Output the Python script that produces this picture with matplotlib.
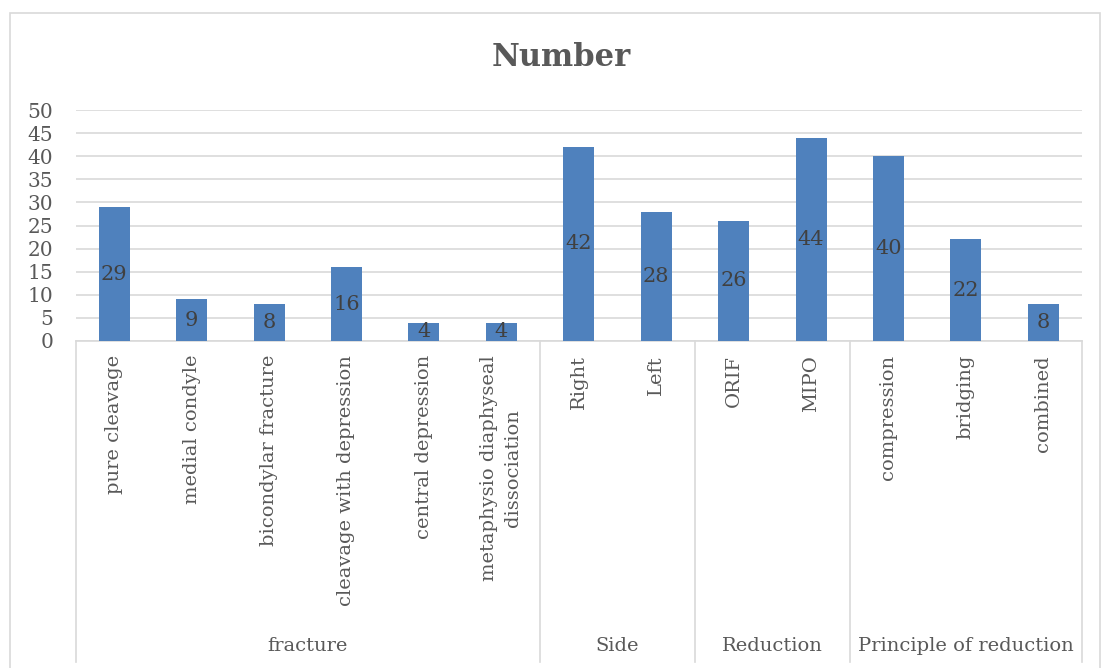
import matplotlib
matplotlib.use("Agg")
import matplotlib.pyplot as plt
from matplotlib.patches import Rectangle
from matplotlib.lines import Line2D
import matplotlib.transforms as mtransforms

categories = ["pure cleavage", "medial condyle", "bicondylar fracture",
              "cleavage with depression", "central depression",
              "metaphysio diaphyseal\ndissociation",
              "Right", "Left", "ORIF", "MIPO",
              "compression", "bridging", "combined"]
values = [29, 9, 8, 16, 4, 4, 42, 28, 26, 44, 40, 22, 8]
groups = ["fracture", "Side", "Reduction", "Principle of reduction"]
group_sizes = [6, 2, 2, 3]
yticks = [0, 5, 10, 15, 20, 25, 30, 35, 40, 45, 50]

W, H = 1101, 668
fig = plt.figure(figsize=(W / 100, H / 100), dpi=100)
FONT = "DejaVu Serif"
TXT = "#595959"

# outer chart border
fig.patches.append(Rectangle((10 / W, -0.05), (1100 - 10) / W, (H - 12.5) / H + 0.05,
                             transform=fig.transFigure, fill=False,
                             edgecolor="#D9D9D9", linewidth=1.2))

x0, x1 = 75.5, 1082
y0, y1 = 341, 110
ax = fig.add_axes([x0 / W, (H - y0) / H, (x1 - x0) / W, (y0 - y1) / H])
n = len(categories)
xs = list(range(n))
ax.bar(xs, values, width=0.4, color="#4F81BD", zorder=3)
ax.set_xlim(-0.5, n - 0.5)
ax.set_ylim(0, 50)
ax.set_yticks(yticks)
ax.set_yticklabels([str(v) for v in yticks], fontfamily=FONT, fontsize=14.5, color=TXT)
ax.tick_params(axis="y", length=0, pad=16)
ax.set_xticks([])
for s in ["top", "right", "left"]:
    ax.spines[s].set_visible(False)
ax.spines["bottom"].set_color("#D9D9D9")
ax.spines["bottom"].set_linewidth(1.2)
ax.grid(axis="y", color="#D9D9D9", linewidth=1.2, zorder=0)
ax.set_axisbelow(True)

for x, v in zip(xs, values):
    ax.text(x, v / 2, str(v), ha="center", va="center", fontfamily=FONT,
            fontsize=15, color="#404040", zorder=4)

trans = mtransforms.blended_transform_factory(ax.transData, fig.transFigure)
for x, c in zip(xs, categories):
    ax.text(x, (H - 355) / H, c, transform=trans, rotation=90, ha="center",
            va="top", multialignment="center", fontfamily=FONT, fontsize=14,
            color=TXT, linespacing=1.45)

# group separators and labels
start = 0
bounds = [0]
for g in group_sizes:
    start += g
    bounds.append(start)
for b in bounds:
    fig.add_artist(Line2D([b - 0.5, b - 0.5], [(H - y0) / H, (H - 662) / H],
                          transform=trans, color="#D9D9D9", linewidth=1.2))
for i, g in enumerate(groups):
    mid = (bounds[i] + bounds[i + 1] - 1) / 2
    ax.text(mid, (H - 646) / H, g, transform=trans, ha="center", va="center",
            fontfamily=FONT, fontsize=14, color=TXT)

fig.text(561 / W, (H - 57) / H, "Number", ha="center", va="center", fontfamily=FONT,
         fontsize=22, fontweight="bold", color=TXT)

fig.savefig("out.png", dpi=100)
